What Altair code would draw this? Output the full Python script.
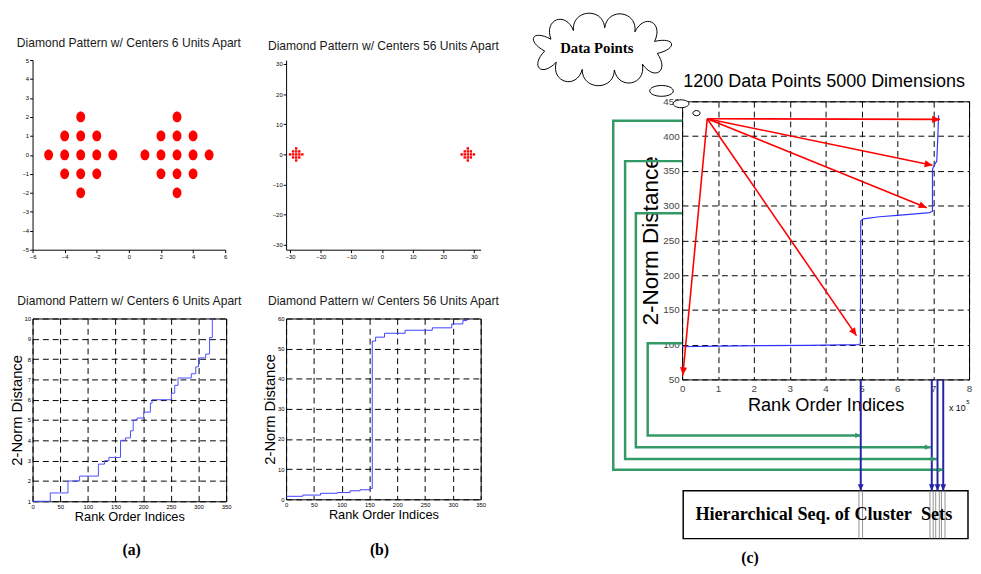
import math
import altair as alt
import pandas as pd

NARROW = "Liberation Sans, Arial, sans-serif"
SERIF = "Liberation Serif, Times New Roman, Times, serif"

# ---------------- data ----------------
diamond_dx = [0, -1, 0, 1, -2, -1, 0, 1, 2, -1, 0, 1, 0]
diamond_dy = [2, 1, 1, 1, 0, 0, 0, 0, 0, -1, -1, -1, -2]
centers_6 = [-3, 3]
centers_56 = [-28, 28]

rank_a = [0, 32, 64, 85, 119, 130, 138, 159, 168, 177, 182, 189, 201, 213, 216,
          251, 257, 263, 287, 295, 300, 313, 320, 325]
dist_a = [1.0, 1.41, 2.0, 2.24, 2.83, 3.0, 3.16, 4.0, 4.12, 4.47, 5.0, 5.1, 5.39, 5.83, 6.0,
          6.32, 6.71, 7.07, 7.28, 7.62, 8.06, 8.25, 9.06, 10.0]

rank_b = [0, 30, 62, 92, 115, 133, 151, 155, 161, 177, 214, 263, 298, 318, 325]
dist_b = [1.0, 1.41, 2.0, 2.24, 2.83, 3.16, 3.6, 52.5, 53.8, 55.1, 56.1, 56.9, 58.2, 59.3, 60.0]

rank_c = [0, 1.0, 2.2, 3.5, 4.9, 4.97, 4.98, 5.05, 5.5, 6.0, 6.5, 6.9, 6.98, 6.98, 7.03, 7.1, 7.13, 7.15]
dist_c = [97, 98, 98.5, 99, 100, 101, 278, 281, 284, 286, 288, 290, 292, 352, 358, 364, 400, 430]

arrow_from = [0.70, 425]
arrow_to_x = [7.19, 6.98, 6.82, 4.86, 0.02]
arrow_to_y = [424, 358, 297, 113, 56]

green_y_start = [422, 364, 289, 102]
green_x_turn = [-1.92, -1.59, -1.29, -0.96]
green_y_low = [-80, -64.5, -47.5, -30.6]
green_x_end = [7.29, 7.10, 6.93, 4.99]

blue_x = [4.98, 6.96, 7.12, 7.28]
blue_y_top = 50
box_x = [0.03, 7.97]
box_y = [-110, -179]
box_line_x = [4.93, 5.03, 6.91, 7.0, 7.07, 7.17, 7.23, 7.33]

cloud_xy = [-2.25, 525]
bubble_x = [-0.575, -0.03, 0.40]
bubble_y = [465, 446.5, 433]
bubble_w = [24, 16, 7.3]
bubble_h = [11, 8, 5.3]

label_a = [179, -1.42]
label_b = [168, -16.9]
label_c = [1.89, -207]


# ---------------- shapes ----------------
def ellipse_path(rx, ry):
    k = 0.5523
    f = lambda v: f"{v:.4f}"
    return (f"M {f(rx)} 0 C {f(rx)} {f(k*ry)} {f(k*rx)} {f(ry)} 0 {f(ry)} "
            f"C {f(-k*rx)} {f(ry)} {f(-rx)} {f(k*ry)} {f(-rx)} 0 "
            f"C {f(-rx)} {f(-k*ry)} {f(-k*rx)} {f(-ry)} 0 {f(-ry)} "
            f"C {f(k*rx)} {f(-ry)} {f(rx)} {f(-k*ry)} {f(rx)} 0 Z")


def cloud_path(n=11, rx=0.80, ry=0.30, h=0.30):
    pts = []
    for i in range(n):
        t = 2 * math.pi * i / n + 0.2
        pts.append((rx * math.cos(t), ry * math.sin(t)))
    d = f"M {pts[0][0]:.3f} {pts[0][1]:.3f} "
    for i in range(n):
        p0 = pts[i]
        p1 = pts[(i + 1) % n]
        mx, my = (p0[0] + p1[0]) / 2, (p0[1] + p1[1]) / 2
        nx, ny = mx / rx ** 2, my / ry ** 2
        L = math.hypot(nx, ny)
        nx, ny = nx / L, ny / L
        d += (f"C {p0[0]+nx*h:.3f} {p0[1]+ny*h:.3f} {p1[0]+nx*h:.3f} {p1[1]+ny*h:.3f} "
              f"{p1[0]:.3f} {p1[1]:.3f} ")
    return d + "Z"


HEAD = "M 0 0 L -0.45 1 L 0.45 1 Z"


def small_axis(vals):
    return alt.Axis(values=vals, title=None, grid=False, labelFontSize=6, labelFont=NARROW,
                    labelColor="black", labelPadding=1, tickSize=3, tickColor="black",
                    domainColor="black", labelFlush=False, labelOverlap=False)


def grid_axis(vals, title, title_size, label_size, title_pad, label_pad, label_color="black"):
    return alt.Axis(values=vals, title=title, grid=True, gridColor="black", gridDash=[6, 4],
                    gridWidth=1, gridOpacity=1, domain=False, ticks=False,
                    labelFontSize=label_size, labelFont=NARROW, labelColor=label_color,
                    labelPadding=label_pad, labelFlush=False, labelOverlap=False,
                    titleFont=NARROW, titleFontSize=title_size, titleFontWeight="normal",
                    titleColor="black", titlePadding=title_pad)


def panel_title(text):
    return alt.TitleParams(text, font=NARROW, fontSize=12.3, fontWeight="normal",
                           color="#1a1a1a", offset=8, anchor="middle")


NOBOX = alt.ViewBackground(stroke="transparent")
BOX = alt.ViewBackground(stroke="black", strokeWidth=1)

# ---------------- panel 1: scatter, 6 apart ----------------
pts6 = pd.DataFrame([{"x": c + dx, "y": dy} for c in centers_6
                     for dx, dy in zip(diamond_dx, diamond_dy)])
p1 = alt.Chart(pts6).mark_point(shape=ellipse_path(0.82, 1.0), filled=True, color="#ff0000",
                                size=121, opacity=1).encode(
    x=alt.X("x:Q", scale=alt.Scale(domain=[-6, 6], nice=False, zero=False),
            axis=small_axis([-6, -4, -2, 0, 2, 4, 6])),
    y=alt.Y("y:Q", scale=alt.Scale(domain=[-5, 5], nice=False, zero=False),
            axis=small_axis(list(range(-5, 6)))),
).properties(width=196, height=193, title=panel_title("Diamond Pattern w/ Centers 6 Units Apart"),
             view=NOBOX)

# ---------------- panel 2: scatter, 56 apart ----------------
pts56 = pd.DataFrame([{"x": c + dx, "y": dy} for c in centers_56
                      for dx, dy in zip(diamond_dx, diamond_dy)])
p2 = alt.Chart(pts56).mark_point(shape="square", filled=True, color="#ff0000", size=6,
                                 opacity=1).encode(
    x=alt.X("x:Q", scale=alt.Scale(domain=[-31.3, 32.2], nice=False, zero=False),
            axis=small_axis([-30, -20, -10, 0, 10, 20, 30])),
    y=alt.Y("y:Q", scale=alt.Scale(domain=[-31.6, 31.3], nice=False, zero=False),
            axis=small_axis([-30, -20, -10, 0, 10, 20, 30])),
).properties(width=198, height=193, title=panel_title("Diamond Pattern w/ Centers 56 Units Apart"),
             view=NOBOX)

# ---------------- panel 3: ranks, 6 apart ----------------
XA = alt.X("r:Q", scale=alt.Scale(domain=[0, 350], nice=False, zero=False),
           axis=grid_axis(list(range(0, 351, 50)), "Rank Order Indices", 13, 6, 2, 2))
YA = alt.Y("d:Q", scale=alt.Scale(domain=[1, 10], nice=False, zero=False),
           axis=grid_axis(list(range(1, 11)), "2-Norm Distance", 15, 6, 0, 2))
line_a = alt.Chart(pd.DataFrame({"r": rank_a, "d": dist_a})).mark_line(
    interpolate="step-after", color="#4d4dff", strokeWidth=1).encode(x=XA, y=YA)
txt_a = alt.Chart(pd.DataFrame({"r": [label_a[0]], "d": [label_a[1]], "t": ["(a)"]})).mark_text(
    font=SERIF, fontWeight="bold", fontSize=16, color="black", baseline="middle").encode(
    x=XA, y=YA, text="t:N")
p3 = alt.layer(line_a, txt_a).properties(
    width=197, height=186, title=panel_title("Diamond Pattern w/ Centers 6 Units Apart"), view=BOX)

# ---------------- panel 4: ranks, 56 apart ----------------
XB = alt.X("r:Q", scale=alt.Scale(domain=[0, 350], nice=False, zero=False),
           axis=grid_axis(list(range(0, 351, 50)), "Rank Order Indices", 13, 6, 2, 2))
YB = alt.Y("d:Q", scale=alt.Scale(domain=[0, 60], nice=False, zero=False),
           axis=grid_axis(list(range(0, 61, 10)), "2-Norm Distance", 15, 6, 0, 2))
line_b = alt.Chart(pd.DataFrame({"r": rank_b, "d": dist_b})).mark_line(
    interpolate="step-after", color="#3d3dff", strokeWidth=1).encode(x=XB, y=YB)
txt_b = alt.Chart(pd.DataFrame({"r": [label_b[0]], "d": [label_b[1]], "t": ["(b)"]})).mark_text(
    font=SERIF, fontWeight="bold", fontSize=16, color="black", baseline="middle").encode(
    x=XB, y=YB, text="t:N")
p4 = alt.layer(line_b, txt_b).properties(
    width=198, height=184, title=panel_title("Diamond Pattern w/ Centers 56 Units Apart"), view=BOX)

# ---------------- panel 5: 1200 points, 5000 dims ----------------
W5, H5 = 292, 283
SX = W5 / 8
SY = H5 / 400


def head_angle(x0, y0, x1, y1):
    return math.degrees(math.atan2((x1 - x0) * SX, (y1 - y0) * SY)) % 360


X5 = alt.X("x:Q", scale=alt.Scale(domain=[0, 8], nice=False, zero=False),
           axis=grid_axis(list(range(0, 9)), "Rank Order Indices", 18.5, 10, 3, 4, "#444"))
Y5 = alt.Y("y:Q", scale=alt.Scale(domain=[50, 450], nice=False, zero=False),
           axis=grid_axis(list(range(50, 451, 50)), "2-Norm Distance", 23, 10, 0, 3, "#444"))

g_rows = []
for k in range(4):
    seq = [(0, green_y_start[k]), (green_x_turn[k], green_y_start[k]),
           (green_x_turn[k], green_y_low[k]), (green_x_end[k], green_y_low[k])]
    for j, (gx, gy) in enumerate(seq):
        g_rows.append({"c": k, "i": j, "x": gx, "y": gy})
green_lines = alt.Chart(pd.DataFrame(g_rows)).mark_line(color="#339966", strokeWidth=2.5).encode(
    x=X5, y=Y5, detail="c:N", order="i:Q")
green_heads = alt.Chart(pd.DataFrame({"x": green_x_end, "y": green_y_low, "a": [90] * 4})).mark_point(
    shape=HEAD, filled=True, color="#339966", size=144, opacity=1).encode(
    x=X5, y=Y5, angle=alt.Angle("a:Q", scale=None))

box = alt.Chart(pd.DataFrame({"x": [box_x[0]], "x2": [box_x[1]], "y": [box_y[0]], "y2": [box_y[1]]})).mark_rect(
    fill="white", stroke="black", strokeWidth=1.5).encode(x=X5, x2="x2:Q", y=Y5, y2="y2:Q")
box_lines = alt.Chart(pd.DataFrame({"x": box_line_x, "y": [box_y[0]] * len(box_line_x),
                                    "y2": [box_y[1]] * len(box_line_x)})).mark_rule(
    color="#777777", strokeWidth=0.8).encode(x=X5, y=Y5, y2="y2:Q")
box_text = alt.Chart(pd.DataFrame({"x": [3.95], "y": [-143.6],
                                   "t": ["Hierarchical Seq. of Cluster\u00a0 Sets"]})).mark_text(
    font=SERIF, fontWeight="bold", fontSize=18.5, color="black", baseline="middle").encode(
    x=X5, y=Y5, text="t:N")

blue_rules = alt.Chart(pd.DataFrame({"x": blue_x, "y": [blue_y_top] * 4, "y2": [box_y[0]] * 4})).mark_rule(
    color="#2222aa", strokeWidth=2).encode(x=X5, y=Y5, y2="y2:Q")
blue_heads = alt.Chart(pd.DataFrame({"x": blue_x, "y": [box_y[0]] * 4, "a": [180] * 4})).mark_point(
    shape=HEAD, filled=True, color="#2222aa", size=169, opacity=1).encode(
    x=X5, y=Y5, angle=alt.Angle("a:Q", scale=None))

red_rules = alt.Chart(pd.DataFrame({"x": [arrow_from[0]] * 5, "y": [arrow_from[1]] * 5,
                                    "x2": arrow_to_x, "y2": arrow_to_y})).mark_rule(
    color="#ff0000", strokeWidth=1.6).encode(x=X5, y=Y5, x2="x2:Q", y2="y2:Q")
red_heads = alt.Chart(pd.DataFrame({
    "x": arrow_to_x, "y": arrow_to_y,
    "a": [head_angle(arrow_from[0], arrow_from[1], tx, ty) for tx, ty in zip(arrow_to_x, arrow_to_y)]
})).mark_point(shape=HEAD, filled=True, color="#ff0000", size=256, opacity=1).encode(
    x=X5, y=Y5, angle=alt.Angle("a:Q", scale=None))

curve = alt.Chart(pd.DataFrame({"i": list(range(len(rank_c))), "x": rank_c, "y": dist_c})).mark_line(
    color="#3333ff", strokeWidth=1.2).encode(x=X5, y=Y5, order="i:Q")

cloud = alt.Chart(pd.DataFrame({"x": [cloud_xy[0]], "y": [cloud_xy[1]]})).mark_point(
    shape=cloud_path(), size=145 ** 2, filled=True, fill="white", stroke="black", strokeWidth=1,
    opacity=1, fillOpacity=1, strokeOpacity=1).encode(x=X5, y=Y5)
bubbles = []
for bx, by, bw, bh in zip(bubble_x, bubble_y, bubble_w, bubble_h):
    bubbles.append(alt.Chart(pd.DataFrame({"x": [bx], "y": [by]})).mark_point(
        shape=ellipse_path(1.0, bh / bw), size=bw ** 2, filled=True, fill="white", stroke="black",
        strokeWidth=1, opacity=1, fillOpacity=1, strokeOpacity=1).encode(x=X5, y=Y5))
cloud_text = alt.Chart(pd.DataFrame({"x": [-2.38], "y": [526], "t": ["Data Points"]})).mark_text(
    font=SERIF, fontWeight="bold", fontSize=15, color="black", baseline="middle").encode(
    x=X5, y=Y5, text="t:N")
title5 = alt.Chart(pd.DataFrame({"x": [3.96], "y": [478.3], "t": ["1200 Data Points 5000 Dimensions"]})).mark_text(
    font=NARROW, fontSize=18.3, color="black", baseline="middle").encode(x=X5, y=Y5, text="t:N")
exp_text = alt.Chart(pd.DataFrame({"x": [7.67], "y": [9], "t": ["x 10"]})).mark_text(
    font=NARROW, fontSize=9, color="black", baseline="middle").encode(x=X5, y=Y5, text="t:N")
exp_sup = alt.Chart(pd.DataFrame({"x": [7.97], "y": [17.5], "t": ["5"]})).mark_text(
    font=NARROW, fontSize=6, color="black", baseline="middle").encode(x=X5, y=Y5, text="t:N")
txt_c = alt.Chart(pd.DataFrame({"x": [label_c[0]], "y": [label_c[1]], "t": ["(c)"]})).mark_text(
    font=SERIF, fontWeight="bold", fontSize=16, color="black", baseline="middle").encode(
    x=X5, y=Y5, text="t:N")

p5 = alt.layer(curve, green_lines, box, box_lines, box_text, blue_rules, blue_heads, green_heads,
               red_rules, red_heads, cloud, *bubbles, cloud_text, title5, exp_text, exp_sup,
               txt_c).properties(width=W5, height=H5, view=BOX)

spacer = alt.Chart(pd.DataFrame({"x": [0], "y": [0]})).mark_point(opacity=0).encode(
    x=alt.X("x:Q", axis=None), y=alt.Y("y:Q", axis=None)).properties(width=2, height=2, view=NOBOX)

col1 = alt.vconcat(p1, p3, spacing=70, bounds="flush")
col2 = alt.vconcat(p2, p4, spacing=70, bounds="flush")
left = alt.hconcat(col1, col2, spacing=258, bounds="flush")
col3 = alt.vconcat(spacer, p5, spacing=40, bounds="flush")
chart = alt.hconcat(left, col3, spacing=661, bounds="flush").properties(
    padding={"top": -3, "left": 0, "right": 0, "bottom": 0}).configure(
    font=NARROW).configure_view(stroke="black")

chart.save("out.html", embed_options={"renderer": "svg", "actions": False})
